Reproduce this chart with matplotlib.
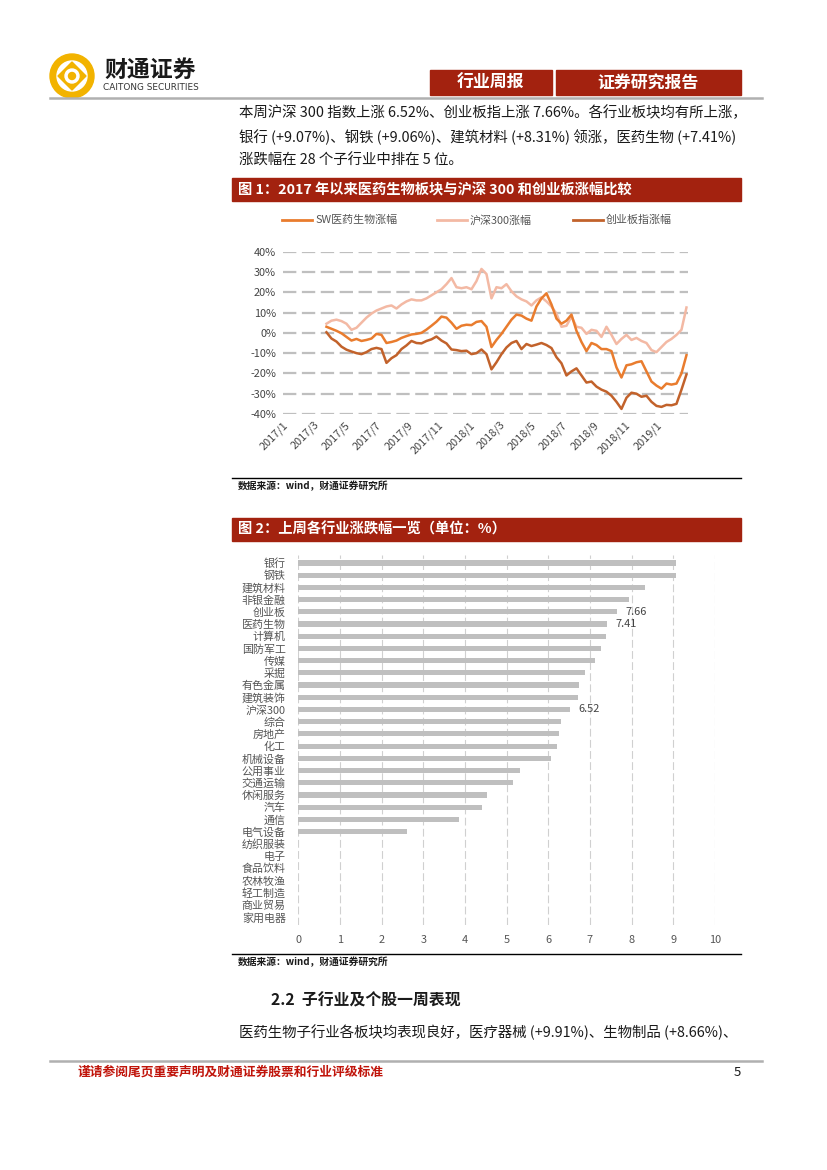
import matplotlib
matplotlib.use("Agg")
import matplotlib.pyplot as plt
from matplotlib.patches import Rectangle, Circle, Polygon
import pandas as pd
import numpy as np

plt.rcParams['font.family'] = ['Noto Sans CJK SC', 'DejaVu Sans']
plt.rcParams['axes.unicode_minus'] = False

# ---------------- data: chart 1 (cumulative change, %) ----------------
series_start = '2017-03-27'
series_end = '2019-03-01'
n_points = 73
hs300 = [4.5, 6, 6.5, 5.8, 4.5, 1.5, 2.5, 5, 7.5, 9.5, 11, 12, 13, 13.5, 12, 14,
         15.5, 16.5, 16, 16, 17, 18.5, 20, 21.5, 24, 27, 22.5, 22, 22.5, 21.5,
         25.5, 31.5, 29, 17, 22.5, 22, 24, 20.5, 18, 16.5, 15.5, 13.5, 16, 17.5,
         15.5, 13, 9.5, 3, 3.5, 8, 3, 2.5, -0.5, 1.5, 1, -2, 3, -1, -5.5, -3,
         -1, -3.5, -2.5, -4, -5, -8.5, -9.5, -7, -4.5, -3, -1, 1.5, 12.5]
sw_pharma = [3, 2, 1, -0.2, -2, -3.8, -3, -4, -3.5, -2.8, -0.5, -1, -5, -4.5,
             -3.8, -2.5, -1.6, -0.8, -0.5, 0, 1.6, 3.5, 5.5, 8, 7.5, 5, 2, 3.5,
             4, 3.8, 5.4, 5.8, 3, -7, -3.5, -0.5, 3, 6.5, 9, 8.5, 7, 6, 13, 17,
             19.5, 14, 7, 4.5, 6, 9, 1, -4.5, -9, -5, -6, -8, -8, -9, -17, -22,
             -16, -15.5, -14.5, -14, -19, -24, -26, -27.5, -25, -25.5, -25, -20,
             -11]
chinext = [0.3, -2.8, -4.3, -6.8, -8.3, -9.2, -10, -10.5, -9.5, -8, -7.4, -8,
           -14.8, -12.5, -11, -8, -6.2, -4, -5, -5.2, -4, -3.2, -1.8, -3.8,
           -5.2, -8.2, -8.5, -9, -8.8, -10.5, -10, -8.2, -10.5, -18, -14.5,
           -10.5, -7.2, -5, -4, -8, -5.5, -6.5, -5.8, -5, -6, -7.5, -12, -15,
           -21, -19, -17.5, -21, -24.5, -24, -26.5, -28, -29, -31, -34, -37.5,
           -32, -29.5, -30, -31.5, -31, -34, -36, -36.5, -35.5, -35.7, -35,
           -28, -20.5]
series_names = ['SW医药生物涨幅', '沪深300涨幅', '创业板指涨幅']
x_tick_labels = ['2017/1', '2017/3', '2017/5', '2017/7', '2017/9', '2017/11',
                 '2018/1', '2018/3', '2018/5', '2018/7', '2018/9', '2018/11',
                 '2019/1']
y_ticks_1 = [-40, -30, -20, -10, 0, 10, 20, 30, 40]

# ---------------- data: chart 2 (weekly change by industry, %) ----------------
industries = ['银行', '钢铁', '建筑材料', '非银金融', '创业板', '医药生物', '计算机',
              '国防军工', '传媒', '采掘', '有色金属', '建筑装饰', '沪深300', '综合',
              '房地产', '化工', '机械设备', '公用事业', '交通运输', '休闲服务', '汽车',
              '通信', '电气设备', '纺织服装', '电子', '食品饮料', '农林牧渔', '轻工制造',
              '商业贸易', '家用电器']
changes = [9.07, 9.06, 8.31, 7.94, 7.66, 7.41, 7.38, 7.26, 7.12, 6.88, 6.73, 6.71,
           6.52, 6.30, 6.26, 6.21, 6.06, 5.32, 5.15, 4.53, 4.41, 3.86, 2.62,
           0, 0, 0, 0, 0, 0, 0]
labelled = ['创业板', '医药生物', '沪深300']
x_ticks_2 = list(range(0, 11))

# ---------------- page ----------------
W, H = 827, 1170
fig = plt.figure(figsize=(W / 100, H / 100), dpi=100)
page = fig.add_axes([0, 0, 1, 1])
page.set_xlim(0, W)
page.set_ylim(H, 0)
page.axis('off')

RED = '#A3220F'
GOLD = '#F2B300'


def ax_at(x0, y0, x1, y1):
    return fig.add_axes([x0 / W, 1 - y1 / H, (x1 - x0) / W, (y1 - y0) / H])


# logo
page.add_patch(Circle((72, 76), 22, color=GOLD))
page.add_patch(Circle((72, 76), 15, color='white'))
page.add_patch(Polygon([[72, 62], [86, 76], [72, 90], [58, 76]], closed=True, color=GOLD))
page.add_patch(Circle((72, 76), 7, color='white'))
page.add_patch(Circle((72, 76), 3.5, color=GOLD))
page.text(104, 70, '财通证券', fontsize=16.5, fontweight='bold', color='#1a1a1a',
          va='center', ha='left')
page.text(103, 88, 'CAITONG SECURITIES', fontsize=6.4, color='#333333',
          va='center', ha='left', family='DejaVu Sans')

# header tabs
page.add_patch(Rectangle((430, 70), 122, 25, color=RED))
page.add_patch(Rectangle((556, 70), 185, 25, color=RED))
page.text(491, 82.5, '行业周报', color='white', fontsize=12.2, fontweight='bold',
          ha='center', va='center')
page.text(648, 82.5, '证券研究报告', color='white', fontsize=12.2, fontweight='bold',
          ha='center', va='center')
page.plot([50, 762], [97.5, 97.5], color='#B0B0B0', lw=1.8)

# body text
body_kw = dict(fontsize=10.4, color='#1a1a1a', ha='left', va='center')
page.text(239, 113, '本周沪深 300 指数上涨 6.52%、创业板指上涨 7.66%。各行业板块均有所上涨，', **body_kw)
page.text(239, 137, '银行 (+9.07%)、钢铁 (+9.06%)、建筑材料 (+8.31%) 领涨，医药生物 (+7.41%)', **body_kw)
page.text(239, 161, '涨跌幅在 28 个子行业中排在 5 位。', **body_kw)

# figure 1 title bar
page.add_patch(Rectangle((232, 178), 509, 23, color=RED))
page.text(238, 189.5, '图 1：2017 年以来医药生物板块与沪深 300 和创业板涨幅比较',
          color='white', fontsize=10.3, fontweight='bold', ha='left', va='center')

# chart 1 legend (manual, as in the original)
colors_1 = ['#E97C2E', '#F3B9A4', '#C2622B']
leg_x = [(282, 312), (437, 467), (573, 603)]
for (a, b), c, name in zip(leg_x, colors_1, series_names):
    page.plot([a, b], [220, 220], color=c, lw=2)
    page.text(b + 3, 220, name, fontsize=7.9, color='#555555', ha='left', va='center')

# chart 1
dates = pd.date_range(series_start, series_end, periods=n_points)
ax1 = ax_at(283, 251.7, 688, 414)
ax1.set_facecolor('none')
for vals, c, z in [(hs300, colors_1[1], 2), (sw_pharma, colors_1[0], 3), (chinext, colors_1[2], 2.5)]:
    ax1.plot(dates, vals, color=c, lw=1.8, zorder=z, solid_joinstyle='round')
ax1.set_xlim(pd.Timestamp('2017-01-03'), pd.Timestamp('2019-03-04'))
ax1.set_ylim(-40, 40)
ax1.set_yticks(y_ticks_1)
ax1.set_yticklabels([f'{v}%' for v in y_ticks_1])
tick_dates = [pd.Timestamp(l.replace('/', '-') + '-01') for l in x_tick_labels]
ax1.set_xticks(tick_dates)
ax1.set_xticklabels(x_tick_labels, rotation=45, ha='right', va='top',
                    rotation_mode='anchor')
ax1.tick_params(axis='both', length=0, labelsize=7.9, labelcolor='#444444')
ax1.tick_params(axis='y', pad=5)
ax1.tick_params(axis='x', pad=4)
for s in ax1.spines.values():
    s.set_visible(False)
ax1.grid(axis='y', color='#BFBFBF', lw=1.6, linestyle=(0, (6, 2.5)), zorder=0)
ax1.set_axisbelow(True)

# source 1
page.plot([232, 741], [478, 478], color='black', lw=1)
page.text(238, 486.5, '数据来源：wind，财通证券研究所', fontsize=7, fontweight='bold',
          color='#1a1a1a', ha='left', va='center')

# figure 2 title bar
page.add_patch(Rectangle((232, 518), 509, 23, color=RED))
page.text(238, 529.5, '图 2：上周各行业涨跌幅一览（单位：%）',
          color='white', fontsize=10.3, fontweight='bold', ha='left', va='center')

# chart 2
ax2 = ax_at(298.3, 555, 715, 925)
ax2.set_facecolor('none')
ypos = np.arange(len(industries))
ax2.barh(ypos, changes, height=0.42, color='#BFBFBF', zorder=2)
ax2.set_ylim(len(industries) - 0.35, -0.65)
ax2.set_xlim(0, 10)
ax2.set_yticks(ypos)
ax2.set_yticklabels(industries)
ax2.set_xticks(x_ticks_2)
ax2.tick_params(axis='both', length=0, labelsize=7.9, labelcolor='#555555')
ax2.tick_params(axis='y', pad=9)
ax2.tick_params(axis='x', pad=7)
for s in ax2.spines.values():
    s.set_visible(False)
ax2.grid(axis='x', color='#D0D0D0', lw=0.8, linestyle=(0, (7, 3)), zorder=0)
ax2.set_axisbelow(True)
for name, v, y in zip(industries, changes, ypos):
    if name in labelled:
        ax2.annotate(f'{v:.2f}', (v, y), xytext=(6, 0), textcoords='offset points',
                     ha='left', va='center', fontsize=7.9, color='#444444')

# source 2
page.plot([232, 741], [954, 954], color='black', lw=1)
page.text(238, 962, '数据来源：wind，财通证券研究所', fontsize=7, fontweight='bold',
          color='#1a1a1a', ha='left', va='center')

# section header and text
page.text(271, 1000, '2.2  子行业及个股一周表现', fontsize=11.4, fontweight='bold',
          color='#1a1a1a', ha='left', va='center')
page.text(239, 1032, '医药生物子行业各板块均表现良好，医疗器械 (+9.91%)、生物制品 (+8.66%)、',
          **body_kw)

# footer
page.plot([50, 762], [1061, 1061], color='#B0B0B0', lw=1.8)
page.text(78, 1072, '谨请参阅尾页重要声明及财通证券股票和行业评级标准', fontsize=9.2,
          fontweight='bold', color='#C0140A', ha='left', va='center')
page.text(737, 1072, '5', fontsize=9.5, color='#1a1a1a', ha='center', va='center')

fig.savefig('out.png', dpi=100)
